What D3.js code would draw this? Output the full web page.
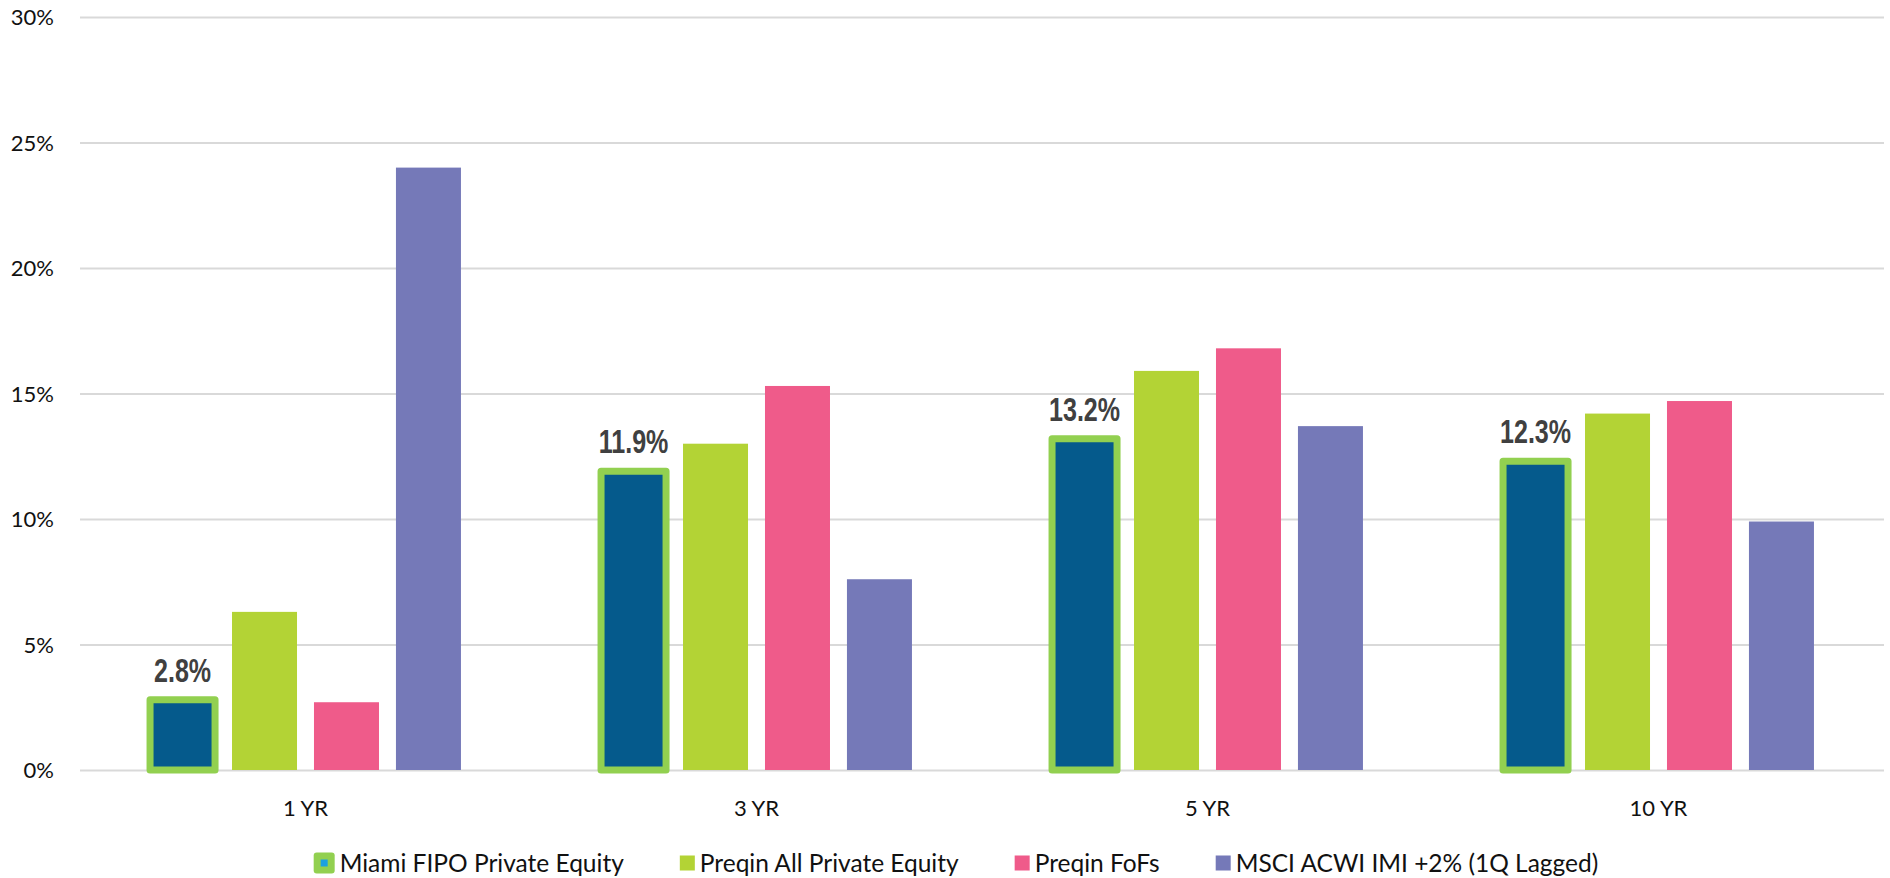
<!DOCTYPE html>
<html>
<head>
<meta charset="utf-8">
<script src="https://cdn.jsdelivr.net/npm/d3@7"></script>
<style>
  html, body { margin: 0; padding: 0; background: #ffffff; }
  svg { display: block; }
</style>
</head>
<body>
<svg id="chart" width="1890" height="878"></svg>
<script>
// Annualized returns by horizon (%)
const categories = ["1 YR", "3 YR", "5 YR", "10 YR"];
const seriesNames = ["Miami FIPO Private Equity", "Preqin All Private Equity", "Preqin FoFs", "MSCI ACWI IMI +2% (1Q Lagged)"];
const miamiFipo   = [2.8, 11.9, 13.2, 12.3];
const preqinAll   = [6.3, 13.0, 15.9, 14.2];
const preqinFoFs  = [2.7, 15.3, 16.8, 14.7];
const msciAcwi    = [24.0, 7.6, 13.7, 9.9];
const yTicks      = [0, 5, 10, 15, 20, 25, 30];

const seriesValues = [miamiFipo, preqinAll, preqinFoFs, msciAcwi];
const colors = ["#055A8C", "#B3D335", "#EF5B8A", "#7579B8"];
const highlight = "#92D050";

const svg = d3.select("#chart");
const plot = { left: 80, right: 1884, top: 17, bottom: 770 };

const y = d3.scaleLinear().domain([0, 30]).range([plot.bottom, plot.top]);

const x0 = d3.scaleBand().domain(categories).range([plot.left, plot.right]).padding(0);
const groupWidth = x0.bandwidth() * 0.727;
const x1 = d3.scaleBand()
  .domain(d3.range(seriesNames.length))
  .range([(x0.bandwidth() - groupWidth) / 2, (x0.bandwidth() + groupWidth) / 2])
  .paddingInner(0.207)
  .paddingOuter(0.1035);

// Gridlines
const yAxis = d3.axisLeft(y).tickValues(yTicks).tickSize(-(plot.right - plot.left)).tickFormat(d => d + "%");
const gy = svg.append("g").attr("transform", `translate(${plot.left},0)`).call(yAxis);
gy.select(".domain").remove();
gy.selectAll(".tick line").attr("stroke", "#D9D9D9").attr("stroke-width", 2);
gy.selectAll(".tick text")
  .attr("x", -26)
  .attr("dy", "0.35em")
  .attr("fill", "#111")
  .style("font-family", "Lato, 'Liberation Sans', Arial, sans-serif")
  .style("font-size", "22px");

// Category axis labels
const xAxis = d3.axisBottom(x0).tickSize(0);
const gx = svg.append("g").attr("transform", `translate(0,${plot.bottom})`).call(xAxis);
gx.select(".domain").remove();
gx.selectAll(".tick text")
  .attr("y", 46)
  .attr("dy", 0)
  .attr("fill", "#111")
  .style("font-family", "Lato, 'Liberation Sans', Arial, sans-serif")
  .style("font-size", "22px");

// Bars
const rows = [];
categories.forEach((c, ci) => {
  seriesValues.forEach((vals, si) => rows.push({ cat: c, s: si, v: vals[ci] }));
});

const bars = svg.append("g");
// non-highlighted series first
bars.selectAll("rect.bar")
  .data(rows.filter(d => d.s !== 0))
  .join("rect")
  .attr("class", "bar")
  .attr("x", d => x0(d.cat) + x1(d.s))
  .attr("width", x1.bandwidth())
  .attr("y", d => y(d.v))
  .attr("height", d => y(0) - y(d.v))
  .attr("fill", d => colors[d.s]);

// Miami FIPO series with green outline
bars.selectAll("rect.hl")
  .data(rows.filter(d => d.s === 0))
  .join("rect")
  .attr("class", "hl")
  .attr("x", d => x0(d.cat) + x1(d.s))
  .attr("width", x1.bandwidth())
  .attr("y", d => y(d.v))
  .attr("height", d => y(0) - y(d.v))
  .attr("fill", colors[0])
  .attr("stroke", highlight)
  .attr("stroke-width", 7)
  .attr("stroke-linejoin", "round");

// Value labels for Miami FIPO (condensed bold)
svg.append("g").selectAll("text")
  .data(rows.filter(d => d.s === 0))
  .join("text")
  .attr("transform", d => `translate(${x0(d.cat) + x1(d.s) + x1.bandwidth() / 2},${y(d.v) - 18}) scale(0.76,1)`)
  .attr("text-anchor", "middle")
  .attr("fill", "#404040")
  .style("font-family", "'Liberation Sans', Arial, sans-serif")
  .style("font-weight", "bold")
  .style("font-size", "33px")
  .text(d => d.v.toFixed(1) + "%");

// Legend
const legend = svg.append("g");
const legendY = 863;
const items = legend.selectAll("g").data(seriesNames).join("g");
items.append("text")
  .attr("y", legendY)
  .attr("dy", "0.35em")
  .attr("fill", "#111")
  .style("font-family", "Lato, 'Liberation Sans', Arial, sans-serif")
  .style("font-size", "24.5px")
  .text(d => d);

const markerSize = [21, 15, 15, 15];
const markerGap = 5, itemGap = 56;
let widths = [];
items.select("text").each(function() { widths.push(this.getComputedTextLength()); });
const total = d3.sum(widths.map((w, i) => markerSize[i] + markerGap + w)) + itemGap * (widths.length - 1);
let cx = 956 - total / 2;
items.each(function(d, i) {
  const g = d3.select(this);
  const ms = markerSize[i];
  if (i === 0) {
    g.append("rect")
      .attr("x", cx).attr("y", legendY - ms / 2)
      .attr("width", ms).attr("height", ms)
      .attr("rx", 3)
      .attr("fill", highlight);
    g.append("rect")
      .attr("x", cx + ms / 2 - 3.5).attr("y", legendY - 3.5)
      .attr("width", 7).attr("height", 7)
      .attr("fill", "#1BA1E2");
  } else {
    g.append("rect")
      .attr("x", cx).attr("y", legendY - ms / 2)
      .attr("width", ms).attr("height", ms)
      .attr("fill", colors[i]);
  }
  g.select("text").attr("x", cx + ms + markerGap);
  cx += ms + markerGap + widths[i] + itemGap;
});
</script>
</body>
</html>
